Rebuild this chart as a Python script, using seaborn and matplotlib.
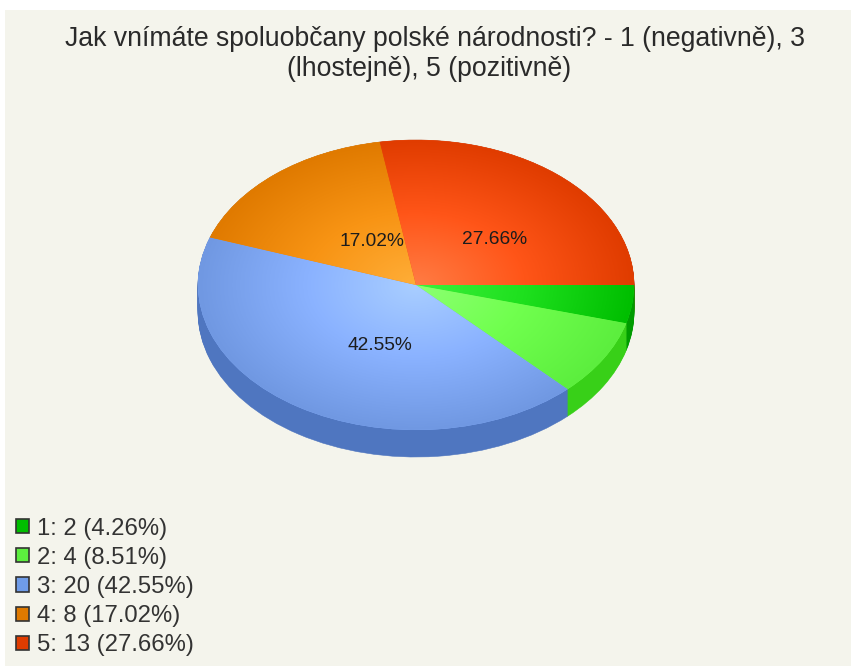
#!/usr/bin/env python3
# -*- coding: utf-8 -*-
import numpy as np
import matplotlib
matplotlib.use('Agg')
import matplotlib.pyplot as plt
from matplotlib.colors import LinearSegmentedColormap
from matplotlib.patches import Patch, Rectangle
import seaborn as sns

sns.set_theme(style='white')
plt.rcParams['font.family'] = ['Liberation Sans', 'DejaVu Sans']

TITLE_LINES = ['Jak vnímáte spoluobčany polské národnosti? - 1 (negativně), 3',
               '(lhostejně), 5 (pozitivně)']
CATEGORIES = ['1', '2', '3', '4', '5']
COUNTS = [2, 4, 20, 8, 13]
SHOWN_LABELS = [False, False, True, True, True]

# colours per slice: centre of the pie, halfway, rim, side wall
CENTER_COLORS = ['#3CF03C', '#8CFF72', '#A9CEFF', '#FFAE38', '#FF7C44']
MID_COLORS = ['#1EE01E', '#70FF4E', '#8AB2FF', '#F89414', '#FF5518']
RIM_COLORS = ['#00BE00', '#5CEE3E', '#7098E2', '#E07A00', '#E03C00']
SIDE_COLORS = ['#009C00', '#38D018', '#4F76C0', '#B86000', '#B83000']
LEGEND_COLORS = ['#00BE00', '#5CEE3E', '#6F9CE8', '#E07A00', '#E03C00']

BG = '#F4F4EC'
W, H = 851, 666
DEPTH_PX = 27
PIE_LEFT, PIE_RIGHT, PIE_TOP, PIE_BOTTOM = 198, 634, 140, 430
# centre of each percentage label, in picture pixels
LABEL_PX = {2: (380, 345), 3: (372, 242), 4: (495, 240)}
TITLE_PX = [(435, 39), (429, 69)]


def main():
    fig = plt.figure(figsize=(W / 100, H / 100), dpi=100, facecolor='white')
    fig.add_artist(Rectangle((5 / W, 0), 1, 1 - 10 / H, transform=fig.transFigure,
                             facecolor=BG, edgecolor='none', zorder=-10))

    ry_px = (PIE_BOTTOM - PIE_TOP) / 2
    depth = DEPTH_PX / ry_px
    ax = fig.add_axes([PIE_LEFT / W, 1 - (PIE_BOTTOM + DEPTH_PX) / H,
                       (PIE_RIGHT - PIE_LEFT) / W, (PIE_BOTTOM + DEPTH_PX - PIE_TOP) / H])
    ax.patch.set_alpha(0)

    # side wall: the same pie repeated going downwards
    for d in np.linspace(depth, 0, DEPTH_PX + 1):
        side_wedges, _ = ax.pie(COUNTS, colors=SIDE_COLORS, startangle=0, counterclock=False,
                                center=(0, -d), wedgeprops={'linewidth': 0.4})
        for wedge, color in zip(side_wedges, SIDE_COLORS):
            wedge.set_edgecolor(color)

    # top face with radial shading clipped to each wedge
    wedges, _ = ax.pie(COUNTS, colors=MID_COLORS, startangle=0, counterclock=False,
                       wedgeprops={'linewidth': 0})
    xx, yy = np.meshgrid(np.linspace(-1, 1, 500), np.linspace(-1, 1, 500))
    radius = np.sqrt(xx ** 2 + yy ** 2)
    for i, wedge in enumerate(wedges):
        cmap = LinearSegmentedColormap.from_list(
            f'slice{i}', [CENTER_COLORS[i], MID_COLORS[i], RIM_COLORS[i]])
        im = ax.imshow(radius, extent=(-1, 1, -1, 1), origin='lower', cmap=cmap,
                       vmin=0, vmax=1, aspect='auto', zorder=wedge.get_zorder() + 1)
        im.set_clip_path(wedge)

    ax.set_aspect('auto')
    ax.set_xlim(-1, 1)
    ax.set_ylim(-1 - depth, 1)
    ax.axis('off')

    total = sum(COUNTS)
    for i, shown in enumerate(SHOWN_LABELS):
        if shown:
            x, y = LABEL_PX[i]
            fig.text(x / W, 1 - y / H, f'{COUNTS[i] / total * 100:.2f}%', ha='center', va='center',
                     fontsize=13.8, color='#1c1c1c', zorder=20)

    for line, (x, y) in zip(TITLE_LINES, TITLE_PX):
        fig.text(x / W, 1 - y / H, line, ha='center', va='center', fontsize=19.2, color='#2a2a2a')

    handles = [Patch(facecolor=c, edgecolor='#333333', linewidth=1.2) for c in LEGEND_COLORS]
    labels = [f'{c}: {v} ({v / total * 100:.2f}%)' for c, v in zip(CATEGORIES, COUNTS)]
    fig.legend(handles, labels, loc='lower left', bbox_to_anchor=(9 / W, 1 - 663.5 / H),
               frameon=False, fontsize=17.2, labelcolor='#333333', handlelength=0.54,
               handleheight=0.54, handletextpad=0.34, labelspacing=0.3, borderpad=0.3,
               borderaxespad=0)

    plt.savefig('out.png', dpi=100, facecolor='white')
    plt.close()


if __name__ == '__main__':
    main()
